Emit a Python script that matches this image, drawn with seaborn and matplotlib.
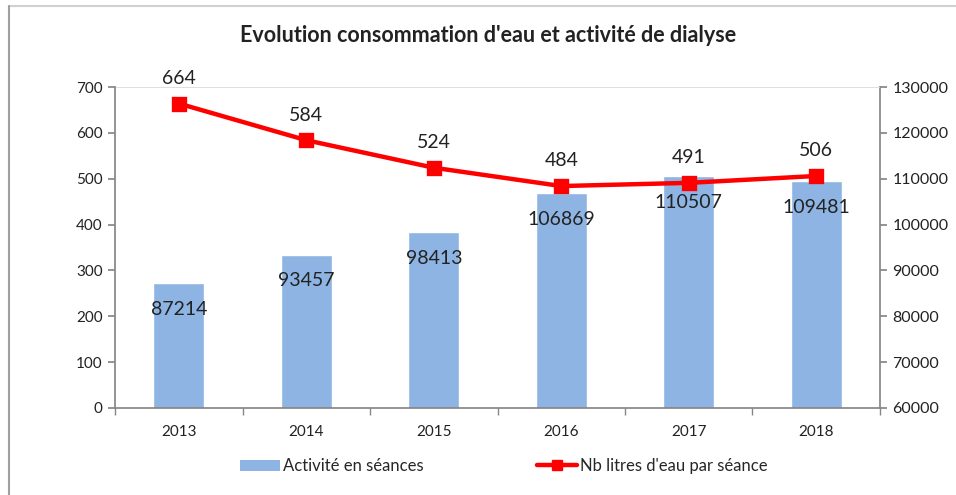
import numpy as np
import pandas as pd
import matplotlib
matplotlib.use("Agg")
import matplotlib.pyplot as plt
from matplotlib.lines import Line2D
from matplotlib.patches import Patch
from matplotlib.ticker import FixedLocator
import seaborn as sns

years = ["2013", "2014", "2015", "2016", "2017", "2018"]
seances = [87214, 93457, 98413, 106869, 110507, 109481]
litres = [664, 584, 524, 484, 491, 506]

title = "Evolution consommation d'eau et activité de dialyse"
bar_label = "Activité en séances"
line_label = "Nb litres d'eau par séance"

sns.set_theme(style="white")
plt.rcParams['font.family'] = ['Lato', 'DejaVu Sans']

BAR_C = "#8DB4E2"
RED = "#FF0000"
AX_C = "#868686"
TXT = "#222222"

fig = plt.figure(figsize=(9.56, 4.95), dpi=100)
ax1 = fig.add_axes([0.1203, 0.1758, 0.8002, 0.6484])
ax2 = ax1.twinx()

df = pd.DataFrame({"year": years, "seances": seances, "litres": litres})

sns.barplot(data=df, x="year", y="seances", ax=ax2, color=BAR_C,
            saturation=1, width=0.4, zorder=1)
ax2.set_ylim(60000, 130000)
ax2.yaxis.set_major_locator(FixedLocator(np.arange(60000, 130001, 10000)))

sns.pointplot(data=df, x="year", y="litres", ax=ax1, color=RED,
              markers="s", markersize=8, linewidth=3.2)
ax1.set_ylim(0, 700)
ax1.yaxis.set_major_locator(FixedLocator(np.arange(0, 701, 100)))

ax1.set_zorder(ax2.get_zorder() + 1)
ax1.patch.set_visible(False)

for a in (ax1, ax2):
    a.set_xlim(-0.5, len(years) - 0.5)
    a.set_xlabel("")
    a.set_ylabel("")
    for s in a.spines.values():
        s.set_visible(False)

ax1.spines["left"].set_visible(True)
ax1.spines["left"].set_color(AX_C)
ax1.spines["bottom"].set_visible(True)
ax1.spines["bottom"].set_color(AX_C)
ax2.spines["right"].set_visible(True)
ax2.spines["right"].set_color(AX_C)
ax1.axhline(700, color="#D9D9D9", lw=1.2, zorder=0)

ax1.set_xticks(range(len(years)))
ax1.set_xticklabels(years)
ax1.set_xticks(np.arange(-0.5, len(years), 1.0), minor=True)
ax1.tick_params(axis="x", which="major", length=0, labelsize=11, colors=TXT, pad=12)
ax1.tick_params(axis="x", which="minor", length=5, color=AX_C, direction="out", bottom=True)
ax1.tick_params(axis="y", left=True, length=5, color=AX_C, labelsize=11, labelcolor=TXT, pad=4)
ax2.tick_params(axis="y", right=True, length=5, color=AX_C, labelsize=11.5, labelcolor=TXT, pad=4)
ax2.tick_params(axis="x", length=0)

# data labels
for i, v in enumerate(litres):
    ax1.annotate(str(v), (i, v), xytext=(0, 12), textcoords="offset points",
                 ha="center", va="bottom", fontsize=14, color=TXT)
for i, v in enumerate(seances):
    ax2.annotate(str(v), (i, v), xytext=(0, -19), textcoords="offset points",
                 ha="center", va="center", fontsize=14, color=TXT, zorder=5)

fig.text(0.511, 0.928, title, ha="center", va="center", fontsize=15.5,
         fontweight="bold", color=TXT)

handles = [Patch(facecolor=BAR_C, edgecolor="none"),
           Line2D([0], [0], color=RED, lw=3.2, marker="s", markersize=7)]
fig.legend(handles, [bar_label, line_label], loc="center",
           bbox_to_anchor=(0.527, 0.058), ncol=2, frameon=False,
           fontsize=12, columnspacing=6.8, handlelength=2.4, handletextpad=0.2)

# outer frame (top and left)
fig.add_artist(Line2D([0.0094, 1.0], [0.988, 0.988], color="#D0D0D0", lw=1.5,
                      transform=fig.transFigure))
fig.add_artist(Line2D([0.0094, 0.0094], [0.0, 0.988], color="#A0A0A0", lw=1.5,
                      transform=fig.transFigure))

fig.savefig("out.png", dpi=100)
